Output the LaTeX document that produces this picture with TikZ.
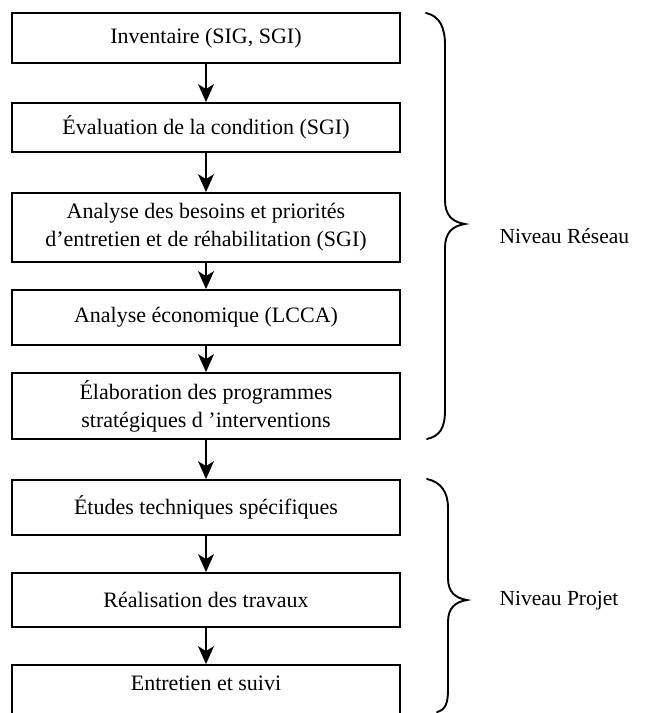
\documentclass[tikz,border=0pt]{standalone}
\usepackage{fontspec}
\setmainfont{Liberation Serif}
\usetikzlibrary{arrows.meta}
\begin{document}
\begin{tikzpicture}[x=1pt,y=-1pt,
  box/.style={draw, line width=1.8pt, rectangle, minimum width=388pt, inner sep=0pt, align=center,
    font=\fontsize{22}{28}\selectfont},
  flow/.style={line width=1.4pt, -{Stealth[length=18pt,width=16pt,inset=5pt]}},
  brace/.style={line width=1.9pt, line cap=round},
  lvl/.style={anchor=west, font=\fontsize{21.5}{25}\selectfont}]
\useasboundingbox (0,0) rectangle (658,713);
\node[box, minimum height=50pt] (b1) at (206,38) {Inventaire (SIG, SGI)};
\node[box, minimum height=49pt] (b2) at (206,127.5) {Évaluation de la condition (SGI)};
\node[box, minimum height=69pt] (b3) at (206,227.5) {Analyse des besoins et priorités\\d’entretien et de réhabilitation (SGI)};
\node[box, minimum height=55pt] (b4) at (206,317.5) {Analyse économique (LCCA)};
\node[box, minimum height=66pt] (b5) at (206,406) {Élaboration des programmes\\stratégiques d ’interventions};
\node[box, minimum height=55pt] (b6) at (206,507.5) {Études techniques spécifiques};
\node[box, minimum height=54pt] (b7) at (206,600) {Réalisation des travaux};
\node[box, minimum height=55pt] (b8) at (206,692.5) {};
\node[font=\fontsize{22}{28}\selectfont] (t8) at (206,683) {Entretien et suivi};
\draw[flow] (b1) -- (b2);
\draw[flow] (b2) -- (b3);
\draw[flow] (b3) -- (b4);
\draw[flow] (b4) -- (b5);
\draw[flow] (b5) -- (b6);
\draw[flow] (b6) -- (b7);
\draw[flow] (b7) -- (b8);
\draw[brace] (426,13) .. controls (440,16) and (445,28) .. (445,45) -- (445,200)
  .. controls (445,215) and (452,222) .. (465,224)
  .. controls (452,226) and (445,233) .. (445,248) -- (445,410)
  .. controls (445,428) and (440,436) .. (427,439);
\draw[brace] (427,479) .. controls (441,482) and (448,492) .. (448,508) -- (448,578)
  .. controls (448,592) and (455,598) .. (467,600)
  .. controls (455,602) and (448,608) .. (448,622) -- (448,690)
  .. controls (448,704) and (445,710) .. (437,712);
\node[lvl] (nr) at (496,236) {Niveau Réseau};
\node[lvl] (np) at (496,601) {Niveau Projet};
\end{tikzpicture}
\end{document}
